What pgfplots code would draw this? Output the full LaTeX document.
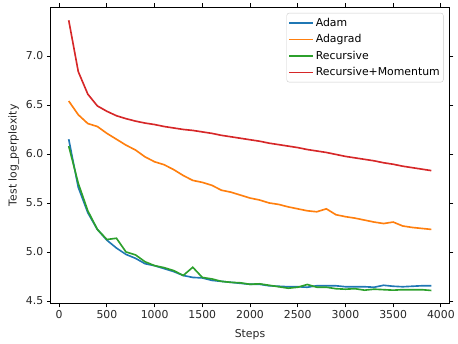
\documentclass[border=0pt]{standalone}
\usepackage{pgfplots}
\pgfplotsset{compat=1.18}
\usepackage{fontspec}
\setmainfont{DejaVu Sans}

\definecolor{tabblue}{HTML}{1F77B4}
\definecolor{taborange}{HTML}{FF7F0E}
\definecolor{tabgreen}{HTML}{2CA02C}
\definecolor{tabred}{HTML}{D62728}

\pgfplotstableread{
step  adam   adagrad recursive momentum
100   6.15   6.54    6.08      7.364
200   5.66   6.40    5.70      6.84
300   5.40   6.31    5.42      6.61
400   5.23   6.28    5.23      6.49
500   5.12   6.21    5.127     6.435
600   5.04   6.15    5.14      6.39
700   4.975  6.09    5.00      6.36
800   4.935  6.04    4.97      6.335
900   4.88   5.97    4.90      6.315
1000  4.86   5.92    4.86      6.30
1100  4.83   5.89    4.84      6.28
1200  4.80   5.84    4.81      6.265
1300  4.76   5.78    4.76      6.25
1400  4.74   5.73    4.844     6.24
1500  4.735  5.71    4.74      6.225
1600  4.71   5.68    4.725     6.21
1700  4.70   5.63    4.70      6.19
1800  4.69   5.61    4.69      6.175
1900  4.68   5.58    4.685     6.16
2000  4.67   5.55    4.67      6.145
2100  4.67   5.53    4.675     6.13
2200  4.655  5.50    4.66      6.11
2300  4.65   5.485   4.645     6.095
2400  4.645  5.46    4.63      6.08
2500  4.645  5.44    4.64      6.065
2600  4.64   5.42    4.668     6.045
2700  4.655  5.41    4.64      6.03
2800  4.655  5.44    4.64      6.015
2900  4.655  5.38    4.625     5.995
3000  4.645  5.36    4.62      5.975
3100  4.645  5.345   4.625     5.96
3200  4.645  5.325   4.61      5.945
3300  4.64   5.305   4.62      5.93
3400  4.66   5.29    4.615     5.91
3500  4.65   5.305   4.61      5.895
3600  4.645  5.265   4.615     5.875
3700  4.65   5.25    4.615     5.86
3800  4.655  5.24    4.615     5.845
3900  4.655  5.23    4.607     5.83
}\perplexity

\begin{document}
\begin{tikzpicture}
\begin{axis}[
  scale only axis,
  width=402bp, height=299bp,
  xmin=-90, xmax=4090,
  ymin=4.473, ymax=7.5,
  xtick={0,500,...,4000},
  ytick={4.5,5.0,5.5,6.0,6.5,7.0},
  /pgf/number format/assume math mode=true,
  xticklabel style={/pgf/number format/1000 sep={}},
  yticklabel style={/pgf/number format/fixed, /pgf/number format/fixed zerofill, /pgf/number format/precision=1},
  scaled ticks=false,
  tick align=outside,
  major tick length=3.85bp,
  tick style={black, line width=0.88bp},
  axis line style={black, line width=0.88bp},
  ticklabel style={font=\fontsize{11}{13}\selectfont, text=black!85},
  label style={font=\fontsize{11}{13}\selectfont, text=black!85},
  xlabel={Steps},
  xlabel style={yshift=-3.5bp},
  ylabel={Test log\_perplexity},
  legend style={at={(1,1)}, anchor=north east, xshift=-6bp, yshift=-6bp,
    font=\fontsize{11}{13}\selectfont,
    draw=black!20, rounded corners=2.5bp, fill=white, fill opacity=0.8,
    draw opacity=1, text opacity=1,
    inner xsep=1.6bp, inner ysep=3bp, row sep=2.8bp},
  legend cell align=left,
  legend image code/.code={\draw[#1, line width=1.65bp, opacity=1] (0bp,0bp) -- (24bp,0bp);},
  every axis plot/.append style={line width=1.65bp},
]
\addplot[tabblue] table[x=step, y=adam] {\perplexity};
\addlegendentry{Adam}
\addplot[taborange] table[x=step, y=adagrad] {\perplexity};
\addlegendentry{Adagrad}
\addplot[tabgreen] table[x=step, y=recursive] {\perplexity};
\addlegendentry{Recursive}
\addplot[tabred] table[x=step, y=momentum] {\perplexity};
\addlegendentry{Recursive+Momentum}
\end{axis}
\path ([xshift=-51bp,yshift=-37bp]current axis.south west) rectangle ([xshift=5bp,yshift=7bp]current axis.north east);
\end{tikzpicture}
\end{document}
